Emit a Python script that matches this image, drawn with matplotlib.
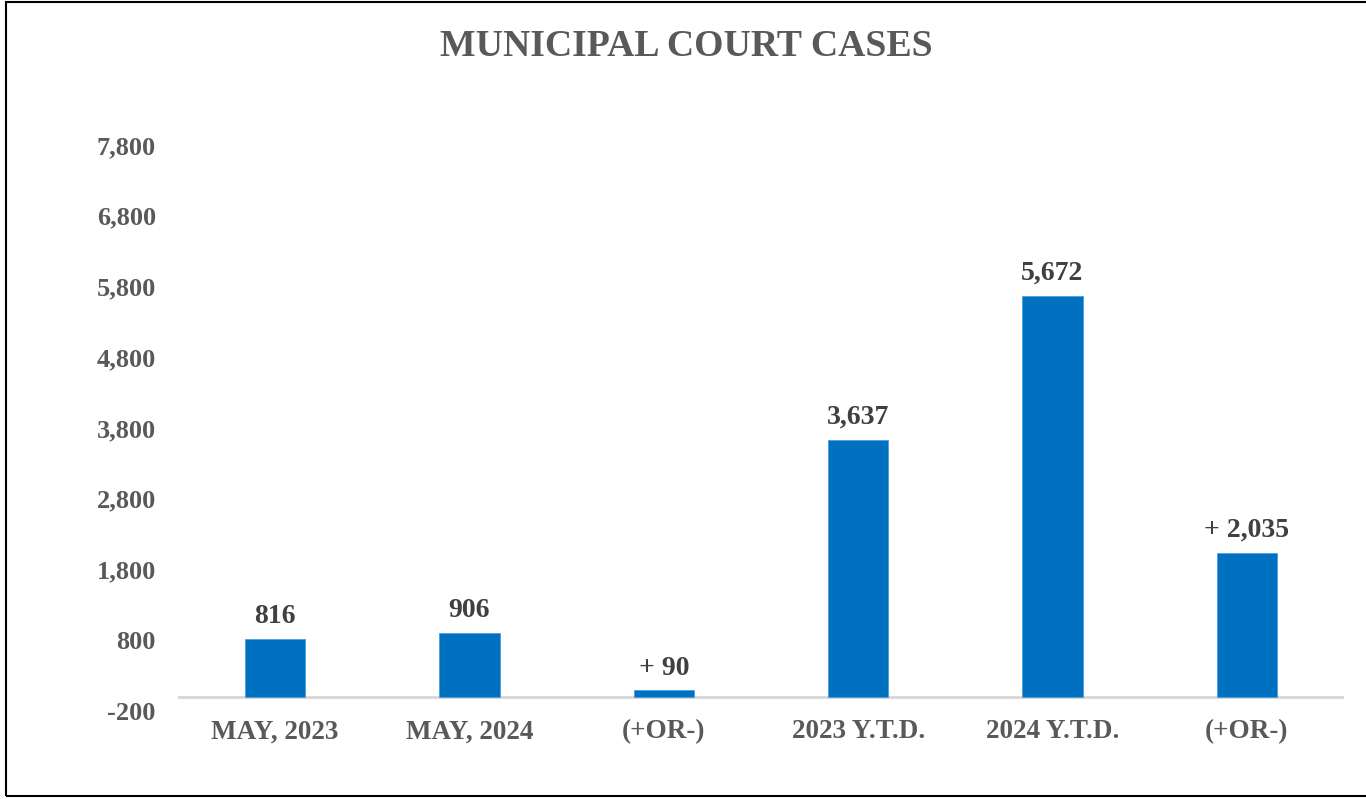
import matplotlib.pyplot as plt
from matplotlib.patches import Rectangle

categories = ["MAY, 2023", "MAY, 2024", "(+OR-)", "2023 Y.T.D.", "2024 Y.T.D.", "(+OR-)"]
values = [816, 906, 90, 3637, 5672, 2035]
value_labels = ["816", "906", "+ 90", "3,637", "5,672", "+ 2,035"]
yticks = [-200, 800, 1800, 2800, 3800, 4800, 5800, 6800, 7800]

plt.rcParams['font.family'] = ['Liberation Serif', 'DejaVu Serif']
plt.rcParams['font.weight'] = 'bold'

W, H = 1366, 799
fig = plt.figure(figsize=(W / 100, H / 100), dpi=100)
ax = fig.add_axes([178 / W, 1 - 711 / H, 1166 / W, (711 - 145) / H])

x = range(len(categories))
ax.bar(x, values, width=0.31, color='#0070C0', edgecolor='#4A9FE0', linewidth=0.6, zorder=3)
ax.set_xlim(-0.5, len(categories) - 0.5)
ax.set_ylim(-200, 7800)
ax.axhline(0, color='#D9D9D9', linewidth=2.2, zorder=2)

# value labels above each bar
for i, (v, lab) in enumerate(zip(values, value_labels)):
    ax.annotate(lab, (i, v), xytext=(0, 11.5), textcoords='offset points',
                ha='center', va='baseline', fontsize=20, fontweight='bold', color='#404040')

ax.set_xticks(list(x))
ax.set_xticklabels(categories, fontsize=19.5, fontweight='bold', color='#595959')
ax.set_yticks(yticks)
ax.set_yticklabels([f"{t:,}" for t in yticks], fontsize=19, fontweight='bold', color='#595959')
ax.tick_params(axis='both', length=0)
ax.tick_params(axis='y', pad=16)
ax.tick_params(axis='x', pad=6)
for s in ax.spines.values():
    s.set_visible(False)

fig.text(686 / W, 1 - 47 / H, "MUNICIPAL COURT CASES", ha='center', va='center',
         fontsize=27.2, fontweight='bold', color='#595959')

# outer frame (right edge falls outside the image, as in the source)
fig.patches.append(Rectangle((6 / W, 3 / H), 1.2, 794 / H, transform=fig.transFigure,
                             fill=False, edgecolor='black', linewidth=1.5, figure=fig))

fig.savefig("out.png", dpi=100)
